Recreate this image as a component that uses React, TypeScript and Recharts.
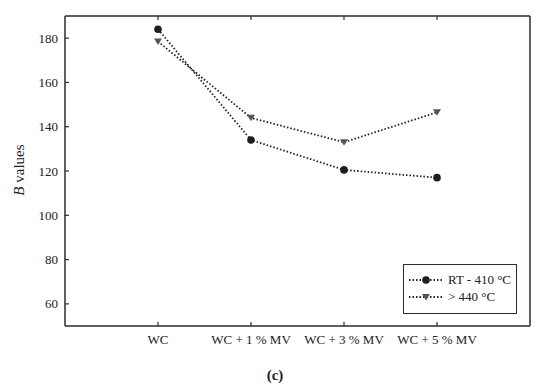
import {
  Line,
  LineChart,
  XAxis,
  YAxis,
} from "recharts";

const categories = ["WC", "WC + 1 % MV", "WC + 3 % MV", "WC + 5 % MV"];
const rtValues = [184, 134, 120.5, 117];
const hotValues = [178.5, 144, 133, 146.5];
const yTicks = [60, 80, 100, 120, 140, 160, 180];

const seriesNames = {
  rt: "RT - 410 °C",
  hot: "> 440 °C",
};

const chartData = categories.map((name, i) => ({
  name,
  rt: rtValues[i],
  hot: hotValues[i],
}));

const FONT = "'Liberation Serif', 'DejaVu Serif', serif";
const AXIS = "#2b2b2b";

function CircleDot(props: any) {
  const { cx, cy } = props;
  if (cx == null || cy == null) return null;
  return <circle cx={cx} cy={cy} r={3.8} fill="#1e1e1e" />;
}

function TriangleDot(props: any) {
  const { cx, cy } = props;
  if (cx == null || cy == null) return null;
  return (
    <path
      d={`M${cx - 4},${cy - 3} L${cx + 4},${cy - 3} L${cx},${cy + 3.5} Z`}
      fill="#555"
    />
  );
}

function LeftTick(props: any) {
  const { x, y, payload } = props;
  return (
    <g>
      <line x1={x + 6} x2={x + 10} y1={y} y2={y} stroke={AXIS} strokeWidth={1.2} />
      <text x={x - 1} y={y} dy="0.35em" textAnchor="end" fontFamily={FONT} fontSize={13} fill="#222">
        {payload.value}
      </text>
    </g>
  );
}

function RightTick(props: any) {
  const { x, y } = props;
  return <line x1={x - 6} x2={x - 10} y1={y} y2={y} stroke={AXIS} strokeWidth={1.2} />;
}

function BottomTick(props: any) {
  const { x, y, payload } = props;
  return (
    <g>
      <line x1={x} x2={x} y1={y - 6} y2={y - 10} stroke={AXIS} strokeWidth={1.2} />
      <text x={x} y={y + 12} textAnchor="middle" fontFamily={FONT} fontSize={13} fill="#222">
        {payload.value}
      </text>
    </g>
  );
}

function TopTick(props: any) {
  const { x, y } = props;
  return <line x1={x} x2={x} y1={y + 6} y2={y + 10} stroke={AXIS} strokeWidth={1.2} />;
}

function LegendBox() {
  const rows = [
    { key: "rt", label: seriesNames.rt, marker: "circle" },
    { key: "hot", label: seriesNames.hot, marker: "tri" },
  ];
  return (
    <div
      style={{
        position: "absolute",
        left: 403,
        top: 264,
        border: `1.5px solid ${AXIS}`,
        background: "#fff",
        width: 114,
        height: 50,
        boxSizing: "border-box",
        padding: "6px 0 0 4px",
        fontFamily: FONT,
        fontSize: 13,
        color: "#222",
      }}
    >
      {rows.map((r) => (
        <div key={r.key} style={{ display: "flex", alignItems: "center", height: 17 }}>
          <svg width={36} height={12}>
            <line x1={1} x2={35} y1={6} y2={6} stroke="#222" strokeWidth={1.8} strokeDasharray="1.5 2" />
            {r.marker === "circle" ? (
              <circle cx={18} cy={6} r={3.8} fill="#1e1e1e" />
            ) : (
              <path d="M14,3 L22,3 L18,9.5 Z" fill="#555" />
            )}
          </svg>
          <span style={{ marginLeft: 4 }}>{r.label}</span>
        </div>
      ))}
    </div>
  );
}

export default function App() {
  return (
    <div style={{ position: "relative", width: 550, height: 391, margin: -8, background: "#fff" }}>
      <LineChart
        width={550}
        height={391}
        data={chartData}
        margin={{ top: 15, right: 19, bottom: 35, left: 0 }}
      >
        <XAxis
          dataKey="name"
          height={30}
          padding={{ left: 93, right: 93 }}
          tickSize={0}
          tickMargin={6}
          tickLine={false}
          axisLine={{ stroke: AXIS, strokeWidth: 1.5 }}
          tick={<BottomTick />}
          interval={0}
        />
        <XAxis
          xAxisId="top"
          dataKey="name"
          orientation="top"
          height={1}
          padding={{ left: 93, right: 93 }}
          tickSize={0}
          tickMargin={6}
          tickLine={false}
          axisLine={{ stroke: AXIS, strokeWidth: 1.5 }}
          tick={<TopTick />}
          interval={0}
        />
        <YAxis
          width={65}
          domain={[50, 190]}
          ticks={yTicks}
          tickSize={0}
          tickMargin={6}
          tickLine={false}
          axisLine={{ stroke: AXIS, strokeWidth: 1.5 }}
          tick={<LeftTick />}
        />
        <YAxis
          yAxisId="right"
          orientation="right"
          width={1}
          domain={[50, 190]}
          ticks={yTicks}
          tickSize={0}
          tickMargin={6}
          tickLine={false}
          axisLine={{ stroke: AXIS, strokeWidth: 1.5 }}
          tick={<RightTick />}
        />
        <Line
          dataKey="rt"
          name={seriesNames.rt}
          type="linear"
          stroke="#222"
          strokeWidth={1.8}
          strokeDasharray="1.5 2"
          dot={<CircleDot />}
          activeDot={false}
          isAnimationActive={false}
        />
        <Line
          dataKey="hot"
          name={seriesNames.hot}
          type="linear"
          stroke="#222"
          strokeWidth={1.8}
          strokeDasharray="1.5 2"
          dot={<TriangleDot />}
          activeDot={false}
          isAnimationActive={false}
        />
      </LineChart>
      <LegendBox />
      <div
        style={{
          position: "absolute",
          left: 19,
          top: 170,
          transform: "translate(-50%, -50%) rotate(-90deg)",
          fontFamily: FONT,
          fontSize: 15,
          color: "#222",
          whiteSpace: "nowrap",
        }}
      >
        <i>B</i> values
      </div>
      <div
        style={{
          position: "absolute",
          left: 275,
          top: 375,
          transform: "translate(-50%, -50%)",
          fontFamily: FONT,
          fontWeight: "bold",
          fontSize: 15,
          color: "#222",
        }}
      >
        (c)
      </div>
    </div>
  );
}
